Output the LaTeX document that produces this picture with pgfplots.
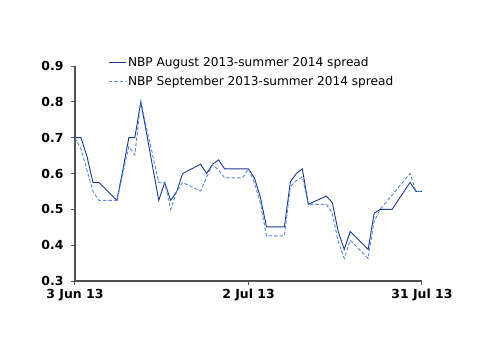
\documentclass[border=0pt]{standalone}
\usepackage{fontspec}
\setmainfont{DejaVu Sans}
\usepackage{pgfplots}
\pgfplotsset{compat=1.18}
\definecolor{aug}{RGB}{28,56,140}
\definecolor{sep}{RGB}{84,136,222}
\definecolor{axc}{RGB}{80,80,80}
\begin{document}
\begin{tikzpicture}
\begin{axis}[
  name=ax,
  scale only axis,
  width=347bp, height=215bp,
  xmin=0, xmax=58, ymin=0.3, ymax=0.9,
  axis x line=bottom, axis y line=left,
  axis line style={-, axc, line width=1.2bp},
  tick style={axc, line width=1bp},
  tick align=outside,
  major tick length=4bp,
  xtick={0,29,58},
  xticklabels={3 Jun 13, 2 Jul 13, 31 Jul 13},
  ytick={0.3,0.4,0.5,0.6,0.7,0.8,0.9},
  yticklabel style={/pgf/number format/fixed, /pgf/number format/fixed zerofill,
    /pgf/number format/precision=1, /pgf/number format/assume math mode=true, xshift=-4bp},
  xticklabel style={yshift=-1bp},
  ticklabel style={font=\fontsize{12.5}{14}\selectfont\bfseries, text=black},
  legend style={draw=none, fill=none, at={(0.095,1.05)}, anchor=north west,
    font=\fontsize{12.2}{14}\selectfont, cells={anchor=west}, row sep=4bp,
    inner sep=0pt},
  legend image code/.code={\draw[#1] (0bp,0bp) -- (17bp,0bp);},
  clip=false,
]
\addplot[aug, line width=0.9bp] coordinates {
(0,0.70) (1,0.70) (2,0.648) (3,0.575) (4,0.575) (7,0.525) (8,0.61) (9,0.70) (10,0.70) (11,0.80)
(14,0.525) (15,0.575) (16,0.525) (17,0.55) (18,0.60) (21,0.626) (22,0.60) (23,0.626) (24,0.638) (25,0.613)
(28,0.613) (29,0.613) (30,0.587) (31,0.533) (32,0.451) (35,0.451) (36,0.577) (37,0.60) (38,0.613) (39,0.514)
(42,0.537) (43,0.519) (44,0.438) (45,0.388) (46,0.438) (49,0.388) (50,0.489) (51,0.50) (52,0.50) (53,0.50)
(56,0.575) (57,0.55) (58,0.55)
};
\addlegendentry{NBP August 2013-summer 2014 spread}
\addplot[sep, line width=0.9bp, dash pattern=on 3.5bp off 2bp] coordinates {
(0,0.70) (1,0.668) (2,0.61) (3,0.55) (4,0.525) (7,0.525) (8,0.60) (9,0.675) (10,0.652) (11,0.80)
(14,0.575) (15,0.575) (16,0.50) (17,0.55) (18,0.575) (21,0.551) (22,0.59) (23,0.624) (24,0.61) (25,0.588)
(28,0.588) (29,0.613) (30,0.573) (31,0.517) (32,0.426) (35,0.426) (36,0.563) (37,0.58) (38,0.59) (39,0.514)
(42,0.514) (43,0.489) (44,0.41) (45,0.363) (46,0.414) (49,0.363) (50,0.466) (51,0.50) (52,0.52) (53,0.54)
(56,0.60) (57,0.55) (58,0.55)
};
\addlegendentry{NBP September 2013-summer 2014 spread}
\coordinate (bl) at (rel axis cs:0,0);
\end{axis}
\pgfresetboundingbox
\path ([shift={(-75bp,-73bp)}]bl) rectangle ([shift={(425bp,281bp)}]bl);
\end{tikzpicture}
\end{document}
